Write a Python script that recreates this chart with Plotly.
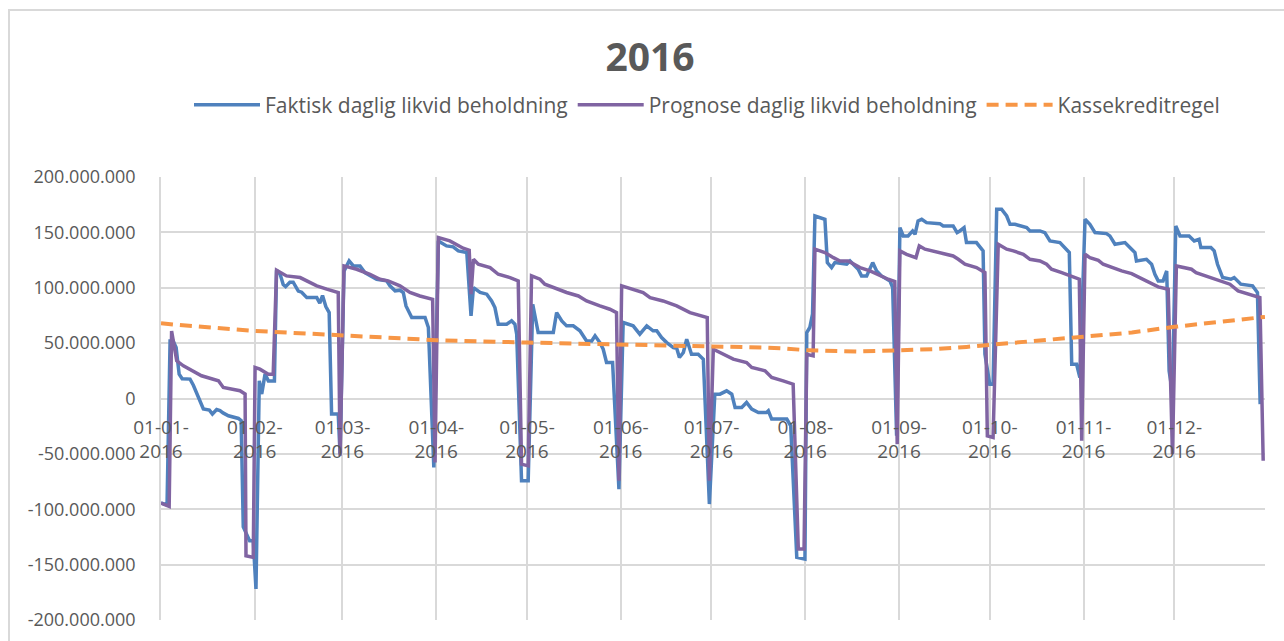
import plotly.graph_objects as go
import pandas as pd

# ---------------- data (days since 1 Jan 2016, values in NOK millions) ----------------
faktisk_dag = [0, 2, 3, 4, 5, 6, 7, 9.6, 10.7, 14, 16, 17, 18.4, 19.5, 20.5, 22.3, 25.6, 26.5,
               27.2, 29.3, 30.5, 31.4, 32.5, 33.3, 34.4, 35.5, 37.5, 38.2,
               39.3, 40.4, 41.2, 42.6, 43.7, 45.4, 46.5, 48.2, 51.5, 52.5, 53.4, 54.5, 55.6, 56.4, 58.6, 59.2,
               60.5, 62.2, 63.6, 65.8, 67.4, 69.1, 71.3, 74.6, 75.7, 77.4, 79, 80.1, 81, 82.9, 87.3, 88.4, 90.2,
               91.7, 94.4, 96.6, 98.3, 101.1, 102.5, 103.3, 105.5, 107.7, 109.3, 110.4, 111.5, 114.3, 115.9,
               117, 117.6, 119.2, 121.4, 122.9, 124.7, 129.7, 130.8, 132.5, 134.1, 136.3, 138.5, 140.7,
               142.4, 143.5, 145.1, 146.2, 147.3, 149.3, 151.4, 152.8, 156.1, 158.3, 160.6, 162.7, 163.9,
               165.5, 167.2, 169.4, 170.5, 171.4, 172.7, 173.8, 175.4, 177.6, 179.3, 181.3, 183.1,
               184.8, 187, 188.7, 189.8, 192, 193.6, 195.3, 197.5, 200.2, 200.8, 201.9, 206.9, 208.2,
               210.2, 212.9, 213.5, 214.5, 215.4, 216.2, 219.5, 220.3, 221.7, 222.8, 226.7, 227.8, 228.9,
               230.5, 231.6, 233.3, 235.3, 236.6, 238.2, 239.9, 241, 241.9, 243.2, 244.3, 245.4, 247,
               248.5, 249.3, 250.3, 251.5, 253.1, 257.5, 258.6, 261.9, 263.2, 264.1, 265.5, 266.3,
               269.6, 271.8, 272.4, 274, 275.1, 276.3, 277.9, 279.6, 280.7, 282.3, 284, 286.2, 287.3,
               290.6, 292.2, 293.9, 297.2, 298.8, 300.3, 301.1, 302.7, 303.8, 305.5, 307.1, 308.8,
               312.6, 313.7, 315.4, 318.7, 320.9, 322, 322.5, 325.8, 327.5, 328.6, 329.7, 331.3, 332.5,
               333.3, 334.4, 335.5, 336.9, 339.9, 341.6, 343.2, 343.8, 347.1, 348.2, 349.3, 351, 353.7,
               354.8, 357, 360.9, 362.5, 363.4]
faktisk_mio = [-94.4, -96, 52, 52, 46, 22, 17.8, 17.5, 12, -9.5, -10.5, -14, -10, -11, -13, -15.6, -18, -20,
               -116, -128.4, -128.4, -172, 16, 4, 22, 15.9, 15.9, 115.8,
               113, 103, 101, 105, 105, 97, 96, 91.1, 91.1, 86, 93, 83, 77.6, -14, -14, -50,
               115, 124.2, 119.7, 119.7, 113.7, 110.7, 107.7, 106.2, 101.7, 97.2, 97.8, 95.7, 83.6, 73.1, 73.1, 64.1, -62.3,
               142.3, 137.8, 136.9, 133.3, 131.8, 74.6, 100.2, 95.7, 94.2, 88.1, 82.1, 67.1, 67.1, 70.1,
               67.1, 58.1, -74.3, -74.3, 85.1, 59.6, 59.6, 77.6, 70.1, 65.6, 65.6, 61.1, 52,
               52, 56.6, 50.5, 44.5, 32.5, 32.5, -81.8, 68.6, 65.6, 58.1, 65.6, 61.1, 61.1,
               55, 50.5, 46, 45.4, 37, 41.5, 53.5, 40, 40, 35.5, -95.3, 3.9,
               3.9, 6.9, 3.9, -8.1, -8.1, -3.6, -9.6, -12.6, -12.6, -11.1, -18.6, -18.6, -24.7,
               -143.5, -145, 59.6, 64.1, 76.1, 164.8, 161.8, 122.7, 118.2, 122.7, 121.2, 124.2, 121.2,
               116.7, 110.7, 110.7, 122.7, 115.2, 110.7, 107.7, 106.2, 100.2, -33.7, 154.3, 146.8, 146.8,
               151.3, 148.3, 160.3, 161.8, 158.8, 157.9, 155.8, 155.8, 149.8, 151.3, 154.3, 140.8,
               140.8, 133.3, 40, 12.9, 12.9, 170.9, 170.9, 164.8, 157.3, 157.3, 155.8, 154.3, 151.3,
               151.3, 149.8, 142.3, 140.8, 136.3, 131.8, 31, 31, 19, 161.8, 157.3, 149.8,
               148.9, 146.8, 139.3, 140.8, 134.8, 131.8, 124.2, 125.7, 121.2, 112.2, 106.2, 106.2, 115.2,
               25, 5, 155.8, 146.8, 146.8, 142.3, 143.8, 136.3, 136.3, 133.3, 121.2, 109.2, 107.7,
               109.2, 103.2, 101.7, 95.7, -5.1]

prognose_dag = [0, 2.7, 3.5, 5.2, 7.4, 10.7, 13.4, 19, 20.6, 26.1, 27.8, 28.1, 30.5, 31.1, 32.7, 35.5,
                37.1, 38.2, 41.5, 46, 48.2, 51.5, 54.8, 58.6, 59.2, 60.5, 64.7, 69.1, 72.4, 75.1, 79,
                82.3, 85.6, 89.8, 90.6, 91.7, 95.5, 97.7, 99.9, 101.9, 102.5, 103.3, 104.9, 108.8,
                111.5, 115.4, 118.1, 119.2, 121.4, 122.5, 125.3, 126.9, 130.8, 134.1, 138, 140.7,
                145.1, 148.4, 150.6, 151.4, 152.3, 156.1, 159.4, 161.7, 166, 170.5, 174.9, 180.6,
                181.3, 182.6, 184.8, 187, 189.2, 193.6, 195.3, 199.7, 201.9, 205.7, 209, 210.7, 212.6,
                213.5, 215.6, 216.2, 219.5, 222.3, 224.5, 227.2, 228.9, 231.1, 234.4, 237.7, 240.4,
                242.6, 243.4, 244.3, 246.5, 249.6, 250.7, 252.6, 257.5, 261.9, 263.6, 265.8, 269.6,
                272.4, 273.2, 275.1, 276.8, 279.6, 281.8, 285.1, 287.3, 290.6, 292.8, 294.4, 297.8,
                300.5, 303.6, 304.4, 305.5, 307.1, 309.9, 311.5, 314.3, 317.6, 320.9, 323.6, 326.4,
                329.7, 333, 334.4, 335.7, 340.7, 342.2, 345.5, 350.1, 353.4, 356.1, 360, 363.3, 364.4]
prognose_mio = [-94.4, -97.5, 61, 34, 29.5, 25, 20.5, 16, 10, 7, 4, -142, -143.5, 28, 26.5, 22,
                22, 115.8, 110.7, 109.2, 106.2, 101.7, 98.7, 95.7, -51.7, 119.7, 116.7, 112.2, 107.7, 106.2, 101.7,
                95.7, 92.6, 89.6, -57.8, 145.3, 142.3, 139.3, 135.7, 133.9, 94.2, 125.7, 121.2, 118.2,
                112.2, 109.2, 106.2, -59.3, -60.8, 110.7, 107.7, 103.2, 98.7, 95.7, 92.6, 88.1,
                83.6, 80.6, 77.6, -74.3, 101.7, 98.7, 95.7, 91.1, 88.1, 83.6, 77.6, 73.1,
                -74.3, 44.5, 41.5, 38.5, 35.5, 32.5, 28, 25, 19, 15.9, 12.9, -136, -136,
                40, 38.5, 134.8, 131.8, 127.2, 124.2, 124.2, 121.2, 118.2, 115.2, 110.7, 107.7,
                105.6, -41.2, 133.3, 130.2, 127.2, 137.8, 134.8, 131.8, 128.7, 125.7, 121.2, 118.2,
                113.7, -33.7, -35.2, 139.3, 134.8, 133.3, 130.2, 125.7, 124.2, 121.2, 116.7, 113.7,
                110.7, 107.7, -38.2, 130.2, 127.2, 124.8, 121.2, 118.2, 115.2, 112.8, 109.2, 104.7,
                100.8, 98.7, -50.2, 119.7, 116.7, 113.7, 110.7, 106.2, 103.2, 97.2, 94.2, 91.1, -56.2]

kassekredit_dag = [0, 4, 31, 60, 91, 121, 152, 182, 200, 207, 213, 230, 244, 255.3, 266.3, 274,
                   286, 305, 321, 335, 348, 365]
kassekredit_mio = [68, 66.8, 61, 56.6, 52.7, 50.5, 49, 47.3, 46, 45, 43.7, 42.4, 43.6, 44.5, 46.6, 48.4,
                   52, 56, 59.6, 64.7, 68.6, 73.7]

maaned_start = ["2016-01-01", "2016-02-01", "2016-03-01", "2016-04-01", "2016-05-01", "2016-06-01",
                "2016-07-01", "2016-08-01", "2016-09-01", "2016-10-01", "2016-11-01", "2016-12-01"]
maaned_tekst = ["01-01-<br>2016", "01-02-<br>2016", "01-03-<br>2016", "01-04-<br>2016",
                "01-05-<br>2016", "01-06-<br>2016", "01-07-<br>2016", "01-08-<br>2016",
                "01-09-<br>2016", "01-10-<br>2016", "01-11-<br>2016", "01-12-<br>2016"]
y_vals = [-200e6, -150e6, -100e6, -50e6, 0, 50e6, 100e6, 150e6, 200e6]
y_tekst = ["-200.000.000", "-150.000.000", "-100.000.000", "-50.000.000", "0",
           "50.000.000", "100.000.000", "150.000.000", "200.000.000"]

serie_navn = ["Faktisk daglig likvid beholdning", "Prognose daglig likvid beholdning", "Kassekreditregel"]

# ---------------- helpers ----------------
start = pd.Timestamp("2016-01-01")


def to_dates(days):
    return start + pd.to_timedelta(days, unit="D")


def to_nok(mio):
    return [v * 1e6 for v in mio]


FONT = "Open Sans"
GREY_TXT = "#595959"
GRID = "#d9d9d9"

fig = go.Figure()
fig.add_trace(go.Scatter(x=to_dates(faktisk_dag), y=to_nok(faktisk_mio), mode="lines",
                         name=serie_navn[0], line=dict(color="#4F81BD", width=3.5)))
fig.add_trace(go.Scatter(x=to_dates(prognose_dag), y=to_nok(prognose_mio), mode="lines",
                         name=serie_navn[1], line=dict(color="#8064A2", width=3.5)))
fig.add_trace(go.Scatter(x=to_dates(kassekredit_dag), y=to_nok(kassekredit_mio), mode="lines",
                         name=serie_navn[2], line=dict(color="#F79646", width=4, dash="12px,7px")))

W, H = 1284, 641
L, R, T, B = 161, 19, 177, 21
pw, ph = W - L - R, H - T - B

fig.update_layout(
    width=W, height=H,
    margin=dict(l=L, r=R, t=T, b=B, autoexpand=False),
    paper_bgcolor="white", plot_bgcolor="white",
    font=dict(family=FONT, size=18, color=GREY_TXT),
    title=dict(text="<b>2016</b>", x=650 / W, xref="container", xanchor="center",
               y=1 - 57 / H, yref="container", yanchor="middle",
               font=dict(family=FONT, size=39, color=GREY_TXT)),
    legend=dict(orientation="h", x=(707 - L) / pw, xanchor="center", y=(H - B - 105) / ph, yanchor="middle",
                font=dict(family=FONT, size=21, color=GREY_TXT), itemwidth=66,
                bgcolor="rgba(0,0,0,0)"),
    showlegend=True,
    hovermode=False,
    shapes=[dict(type="rect", xref="paper", yref="paper",
                 x0=(9 - L) / pw, x1=(1300 - L) / pw,
                 y0=(H - B - 660) / ph, y1=(H - B - 10) / ph,
                 line=dict(color=GRID, width=2), fillcolor="rgba(0,0,0,0)", layer="below")],
)

fig.update_xaxes(type="date", range=["2016-01-01", "2016-12-31"],
                 tickmode="array", tickvals=maaned_start, ticktext=maaned_tekst,
                 showgrid=True, gridcolor=GRID, gridwidth=1.6,
                 anchor="free", position=0.5, showline=False, zeroline=False,
                 ticks="", ticklabelstandoff=15,
                 tickfont=dict(family=FONT, size=19, color=GREY_TXT), automargin=False)
fig.update_yaxes(range=[-200e6, 200e6], tickmode="array", tickvals=y_vals, ticktext=y_tekst,
                 showgrid=True, gridcolor=GRID, gridwidth=1.6,
                 zeroline=True, zerolinecolor=GRID, zerolinewidth=1.6,
                 showline=True, linecolor=GRID, linewidth=1.6,
                 ticks="", ticklabelstandoff=20,
                 tickfont=dict(family=FONT, size=18, color=GREY_TXT), automargin=False)

fig.write_html("out.html", config={"displayModeBar": False},
               post_script="document.body.style.margin='0';")
